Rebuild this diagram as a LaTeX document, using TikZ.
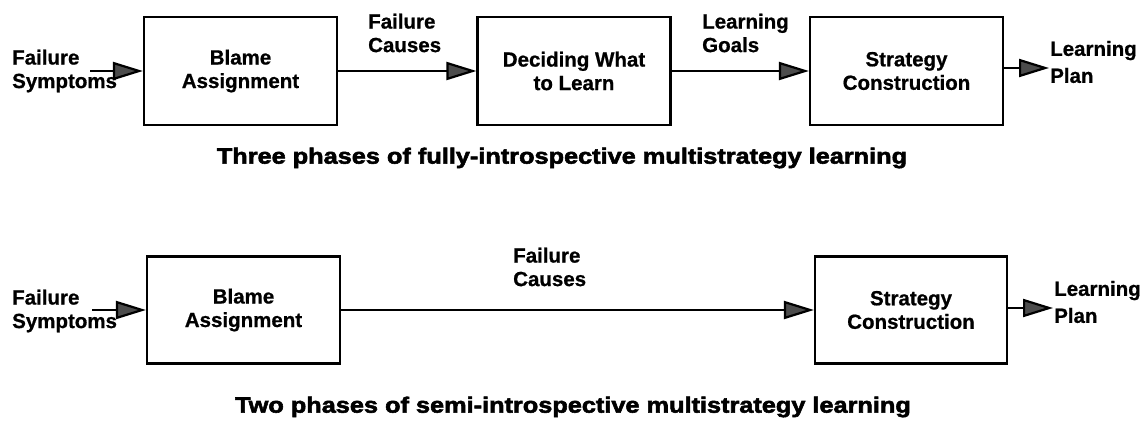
\documentclass[tikz,border=0pt]{standalone}
\usepackage{fontspec}
\setmainfont{Liberation Sans}
\newfontfamily\lblfont{Liberation Sans Bold}[FakeBold=0.8]
\newfontfamily\ttlfont{Liberation Sans Bold}[FakeBold=2.5, FakeStretch=1.15]
\usetikzlibrary{arrows.meta}
\begin{document}
\begin{tikzpicture}[x=1pt,y=-1pt,
  every node/.style={inner sep=0pt, font=\fontsize{20.5}{23.5}\lblfont},
  box/.style={draw, line width=2.2pt, minimum width=193pt, minimum height=108pt, align=center},
  lbl/.style={align=left, anchor=west},
  title/.style={font=\fontsize{22}{25}\ttlfont},
  arr/.style={line width=2.2pt, -{Triangle[length=30pt,width=18pt,fill=black!70]}}]
\useasboundingbox (0,0) rectangle (1147,425);
% top row
\node[box] (b1) at (240.5,71) {Blame\\Assignment};
\node[box] (b2) at (574,71) {Deciding What\\to Learn};
\node[box] (b3) at (906.5,71) {Strategy\\Construction};
\node[lbl] (fs1) at (12,71) {Failure\\Symptoms};
\coordinate (s1) at (90,71);
\node[lbl] (fc1) at (368,33) {Failure\\Causes};
\node[lbl] (lg1) at (702,33) {Learning\\Goals};
\node[lbl, font=\fontsize{20.5}{27}\lblfont] (lp1) at (1050,62) {Learning\\Plan};
\coordinate (e1) at (1049,68);
\draw[arr] (s1) -- (b1.west);
\draw[arr] (b1.east) -- (b2.west);
\draw[arr] (b2.east) -- (b3.west);
\draw[arr] (b3.east |- e1) -- (e1);
\node[title] (t1) at (562,158) {Three phases of fully-introspective multistrategy learning};
% bottom row
\node[box, minimum height=107pt] (c1) at (243.5,310) {Blame\\Assignment};
\node[box, minimum height=107pt, minimum width=192pt] (c3) at (911,310) {Strategy\\Construction};
\node[lbl] (fs2) at (12,311) {Failure\\Symptoms};
\coordinate (s2) at (92,310);
\node[lbl] (fc2) at (513,267) {Failure\\Causes};
\node[lbl, font=\fontsize{20.5}{27}\lblfont] (lp2) at (1054,302) {Learning\\Plan};
\coordinate (e2) at (1053,308);
\draw[arr] (s2) -- (c1.west);
\draw[arr] (c1.east) -- (c3.west);
\draw[arr] (c3.east |- e2) -- (e2);
\node[title] (t2) at (573,407) {Two phases of semi-introspective multistrategy learning};
\end{tikzpicture}
\end{document}
